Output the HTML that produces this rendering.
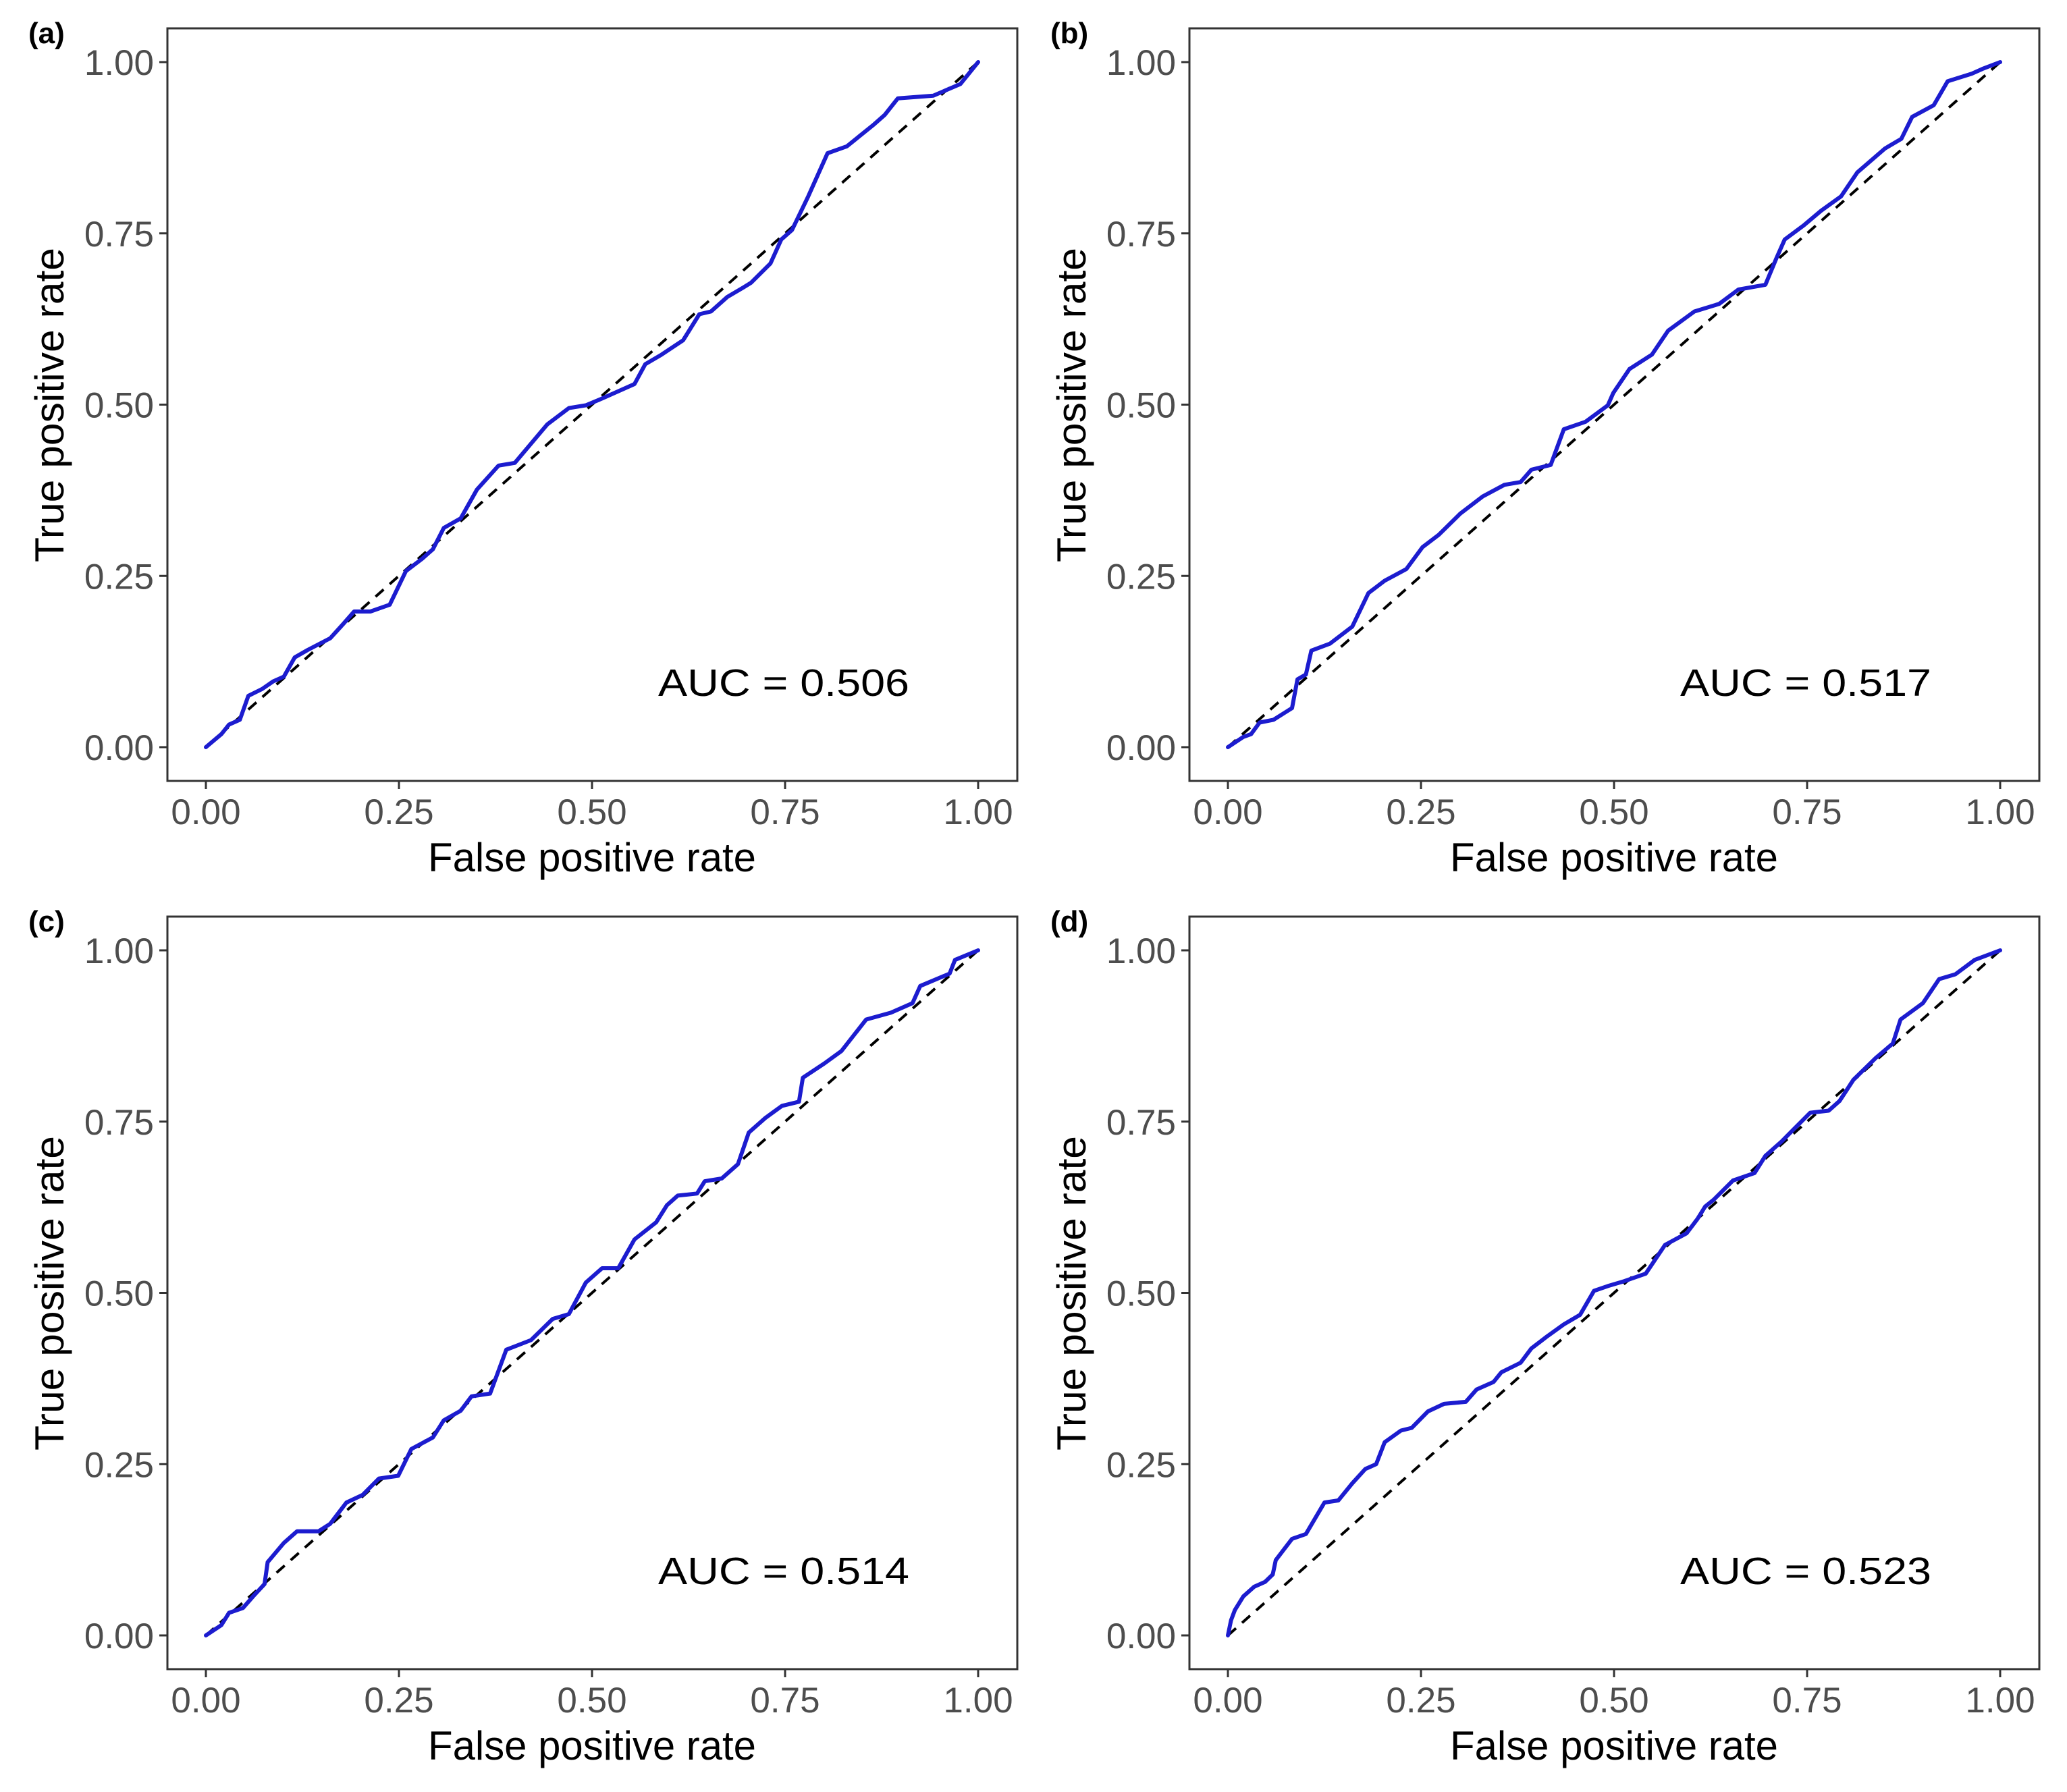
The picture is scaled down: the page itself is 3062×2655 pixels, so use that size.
<!DOCTYPE html>
<html><head><meta charset="utf-8">
<style>
html,body{margin:0;padding:0;background:#fff;}
svg{display:block;}
text{font-family:"Liberation Sans",Arial,sans-serif;}
</style></head>
<body>
<svg id="chart" width="3062" height="2655" viewBox="0 0 3062 2655" xmlns="http://www.w3.org/2000/svg">
<rect width="3062" height="2655" fill="#fff"/>
</svg>
<script>
const panelLabels = ["(a)", "(b)", "(c)", "(d)"];
const aucLabels = ["AUC = 0.506", "AUC = 0.517", "AUC = 0.514", "AUC = 0.523"];
const tickValues = [0, 0.25, 0.5, 0.75, 1];
const tickLabels = ["0.00", "0.25", "0.50", "0.75", "1.00"];

const fprA = [0,.020,.030,.044,.055,.073,.087,.101,.115,.132,.161,.178,.192,.213,.238,.259,.280,.294,.308,.330,.351,.379,.400,.442,.470,.492,.513,.555,.569,.590,.618,.639,.654,.675,.696,.706,.731,.745,.759,.780,.805,.830,.865,.879,.896,.942,.977,1];
const tprA = [0,.019,.033,.040,.075,.085,.096,.103,.131,.142,.159,.180,.198,.198,.208,.257,.275,.289,.320,.334,.376,.411,.415,.471,.495,.499,.509,.530,.559,.573,.594,.632,.636,.657,.671,.678,.706,.741,.755,.804,.867,.877,.909,.923,.947,.951,.968,1];

const fprB = [0,.020,.030,.041,.059,.083,.090,.101,.108,.132,.161,.182,.203,.231,.252,.273,.301,.330,.358,.379,.393,.418,.435,.463,.492,.499,.520,.549,.570,.604,.636,.661,.696,.710,.721,.746,.768,.794,.815,.851,.872,.886,.914,.932,.963,.977,1];
const tprB = [0,.015,.019,.036,.040,.057,.099,.106,.141,.151,.176,.225,.243,.260,.292,.310,.341,.366,.383,.387,.405,.412,.464,.475,.499,.517,.552,.573,.608,.636,.647,.668,.675,.713,.741,.762,.783,.804,.839,.874,.888,.920,.937,.972,.983,.990,1];

const fprC = [0,.020,.030,.048,.062,.076,.080,.101,.118,.146,.161,.182,.203,.224,.249,.266,.294,.308,.330,.344,.368,.389,.421,.449,.470,.492,.513,.534,.555,.583,.597,.611,.636,.646,.668,.689,.703,.724,.746,.768,.773,.801,.823,.855,.887,.915,.925,.963,.970,1];
const tprC = [0,.015,.033,.040,.058,.075,.107,.135,.152,.152,.163,.194,.205,.229,.233,.272,.289,.314,.328,.349,.353,.417,.431,.462,.469,.515,.536,.536,.578,.603,.628,.642,.645,.663,.667,.688,.734,.755,.773,.779,.814,.835,.853,.899,.909,.923,.948,.966,.986,1];

const fprD = [0,.004,.009,.020,.034,.048,.058,.062,.083,.101,.125,.143,.161,.178,.192,.203,.224,.238,.259,.280,.308,.322,.344,.354,.379,.393,.414,.435,.456,.474,.492,.513,.541,.566,.594,.608,.618,.629,.654,.682,.696,.717,.732,.754,.778,.792,.810,.839,.861,.871,.900,.921,.942,.967,1];
const tprD = [0,.022,.037,.057,.071,.078,.089,.110,.141,.148,.194,.197,.222,.243,.250,.282,.299,.303,.327,.338,.341,.359,.370,.384,.398,.419,.437,.454,.468,.503,.510,.517,.528,.570,.587,.608,.626,.636,.664,.675,.700,.721,.738,.763,.766,.780,.811,.843,.864,.899,.923,.958,.965,.986,1];

const fprSeries = [fprA, fprB, fprC, fprD];
const tprSeries = [tprA, tprB, tprC, tprD];

const NS = "http://www.w3.org/2000/svg";
const svg = document.getElementById("chart");
const offsets = [[0,0],[1514,0],[0,1316],[1514,1316]];
const names = ["a","b","c","d"];

function mk(tag, attrs, parent) {
  const e = document.createElementNS(NS, tag);
  for (const k in attrs) e.setAttribute(k, attrs[k]);
  parent.appendChild(e);
  return e;
}

for (let p = 0; p < 4; p++) {
  const ox = offsets[p][0], oy = offsets[p][1];
  const g = mk("g", {transform: "translate(" + ox + "," + oy + ")"}, svg);
  
  
  const X0 = 305, X1 = 1449, Y0 = 1107, Y1 = 92;
  const sx = v => X0 + v * (X1 - X0);
  const sy = v => Y0 - v * (Y0 - Y1);

  const lab = mk("text", {x: 42, y: 64, "font-size": 44, "font-weight": "bold", fill: "#000"}, g);
  lab.textContent = panelLabels[p];
  
  

  // ticks & labels
  for (let i = 0; i < tickValues.length; i++) {
    const yy = sy(tickValues[i]);
    const t1 = mk("line", {x1: 236, x2: 248, y1: yy, y2: yy, stroke: "#333", "stroke-width": 3}, g);
    
    
    const yl = mk("text", {x: 228, y: yy + 19, "font-size": 53, fill: "#4d4d4d", "text-anchor": "end"}, g);
    yl.textContent = tickLabels[i];
    
    
    const xx = sx(tickValues[i]);
    const t2 = mk("line", {x1: xx, x2: xx, y1: 1157, y2: 1169, stroke: "#333", "stroke-width": 3}, g);
    
    
    const xl = mk("text", {x: xx, y: 1221, "font-size": 53, fill: "#4d4d4d", "text-anchor": "middle"}, g);
    xl.textContent = tickLabels[i];
    
    
  }

  const xt = mk("text", {x: 877, y: 1291, "font-size": 60, fill: "#000", "text-anchor": "middle", textLength: 486, lengthAdjust: "spacingAndGlyphs"}, g);
  xt.textContent = "False positive rate";
  
  

  const yt = mk("text", {x: 0, y: 0, "font-size": 60, fill: "#000", "text-anchor": "middle", transform: "translate(94,600) rotate(-90)", textLength: 466, lengthAdjust: "spacingAndGlyphs"}, g);
  yt.textContent = "True positive rate";
  
  

  // diagonal reference
  const diag = mk("line", {x1: sx(0), y1: sy(0), x2: sx(1), y2: sy(1), stroke: "#000", "stroke-width": 4, "stroke-dasharray": "16 12"}, g);
  
  

  // ROC curve
  const fx = fprSeries[p], ty = tprSeries[p];
  let d = "";
  for (let i = 0; i < fx.length; i++) d += (i ? "L" : "M") + sx(fx[i]).toFixed(1) + " " + sy(ty[i]).toFixed(1);
  const path = mk("path", {d: d, fill: "none", stroke: "#1c1ccf", "stroke-width": 6, "stroke-linejoin": "round", "stroke-linecap": "round"}, g);
  
  

  const auc = mk("text", {x: 975, y: 1031, "font-size": 57, fill: "#000", textLength: 372, lengthAdjust: "spacingAndGlyphs"}, g);
  auc.textContent = aucLabels[p];
  
  

  const border = mk("rect", {x: 248, y: 42, width: 1259, height: 1115, fill: "none", stroke: "#333", "stroke-width": 3}, g);
  
  
}
</script>
</body></html>
